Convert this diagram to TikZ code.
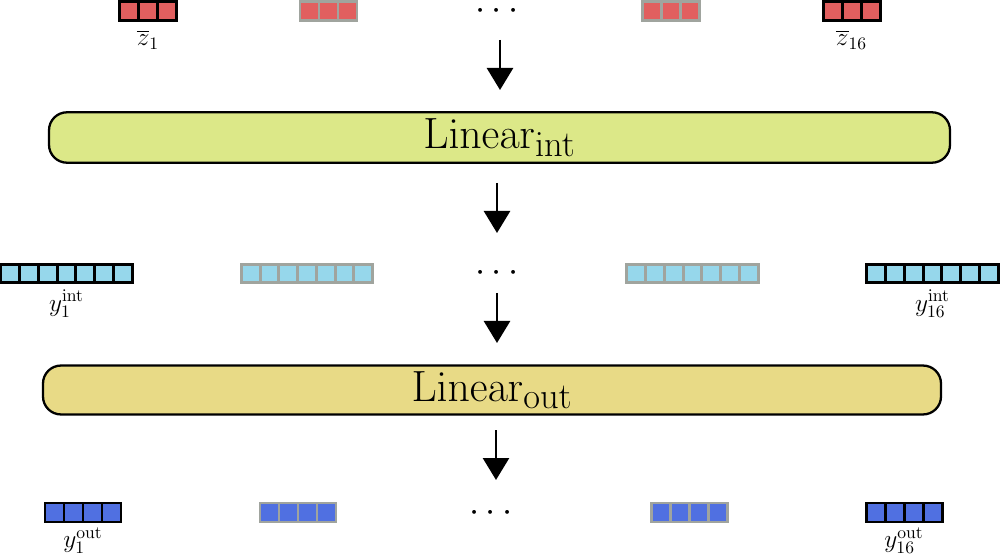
\documentclass[tikz,border=0pt]{standalone}
\usepackage{amsmath,amssymb}
\usepackage{xcolor}
\usepackage{tikz}
\usetikzlibrary{calc,arrows.meta,positioning}
\definecolor{zred}{RGB}{225, 95, 95}
\definecolor{intblue}{RGB}{150, 215, 235}
\definecolor{outblue}{RGB}{80, 112, 225}
\definecolor{fadegray}{RGB}{160, 164, 158}
\definecolor{intgreen}{RGB}{220, 232, 136}
\definecolor{outsand}{RGB}{232, 218, 134}

\begin{document}
\begin{tikzpicture}[>=Stealth,
    cell/.style={draw, line width=1.7pt, minimum size=0.38cm, inner sep=0pt, outer sep=0pt},
    layer/.style={draw, line width=1.3pt, rounded corners=0.36cm, font=\Huge},
    lbl/.style={font=\Large, inner sep=1pt},
    flow/.style={-{Triangle[width=0.52cm, length=0.44cm]}, line width=1.5pt},
    dotrow/.style={font=\huge, inner sep=0pt, anchor=base}]
  \useasboundingbox (0,0) rectangle (20,-11.12);
  % Input vectors z
  \foreach \nm/\xc/\bc in {z1/2.96/black, z2/6.57/fadegray, z3/13.41/fadegray, z16/17.03/black}
    \foreach \i in {1,2,3}
      \node[cell, fill=zred, draw=\bc] (\nm-\i) at ({\xc+(\i-2)*0.38}, -0.22) {};
  \node[lbl, below=4pt of z1-2] (lz1) {$\overline{z}_1$};
  \node[lbl, below=4pt of z16-2] (lz16) {$\overline{z}_{16}$};
  \node[dotrow] (dz) at (10,-0.4) {$\cdots$};
  % First linear layer
  \node[layer, fill=intgreen, minimum width=18.02cm, minimum height=0.98cm] (lint) at (9.99,-2.75) {$\mathrm{Linear}_{\mathrm{int}}$};
  % Intermediate vectors
  \foreach \nm/\xc/\bc in {yi1/1.33/black, yi2/6.14/fadegray, yi3/13.85/fadegray, yi16/18.65/black}
    \foreach \i in {1,...,7}
      \node[cell, fill=intblue, draw=\bc, minimum size=0.375cm] (\nm-\i) at ({\xc+(\i-4)*0.375}, -5.47) {};
  \node[lbl, below=3pt of yi1-4] (lyi1) {$y_1^{\mathrm{int}}$};
  \node[lbl, below=3pt of yi16-4] (lyi16) {$y_{16}^{\mathrm{int}}$};
  \node[dotrow] (dyi) at (10,-5.64) {$\cdots$};
  % Second linear layer
  \node[layer, fill=outsand, minimum width=17.96cm, minimum height=0.96cm] (lout) at (9.84,-7.8) {$\mathrm{Linear}_{\mathrm{out}}$};
  % Output vectors
  \foreach \nm/\xc/\bc in {yo1/1.66/black, yo2/5.96/fadegray, yo3/13.78/fadegray, yo16/18.08/black}
    \foreach \i in {1,...,4}
      \node[cell, fill=outblue, draw=\bc] (\nm-\i) at ({\xc+(\i-2.5)*0.38}, -10.25) {};
  \node[lbl, below=2pt of yo1-2.south east] (lyo1) {$y_1^{\mathrm{out}}$};
  \node[lbl, below=2pt of yo16-2.south east] (lyo16) {$y_{16}^{\mathrm{out}}$};
  \node[dotrow] (dyo) at (9.88,-10.42) {$\cdots$};
  % Arrows
  \coordinate (a1) at (10,-0.8);    \coordinate (b1) at (10,-1.8);
  \coordinate (a2) at (9.94,-3.66); \coordinate (b2) at (9.94,-4.66);
  \coordinate (a3) at (9.94,-5.86); \coordinate (b3) at (9.94,-6.86);
  \coordinate (a4) at (9.92,-8.6);  \coordinate (b4) at (9.92,-9.6);
  \foreach \k in {1,...,4}
    \draw[flow] (a\k) -- (b\k);
\end{tikzpicture}
\end{document}
